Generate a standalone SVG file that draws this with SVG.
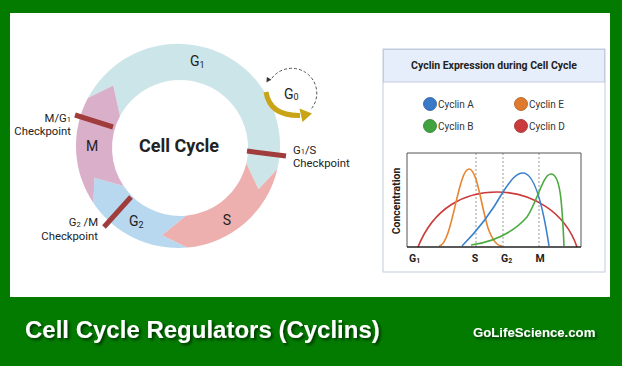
<svg xmlns="http://www.w3.org/2000/svg" width="622" height="366" viewBox="0 0 622 366">
<defs>
<filter id="sh" x="-10%" y="-30%" width="120%" height="160%">
<feDropShadow dx="2" dy="2" stdDeviation="1.5" flood-color="#000" flood-opacity="0.6"/>
</filter>
</defs>
<style>
.lbl{font-family:Roboto,"Liberation Sans",sans-serif;fill:#222}
.ph{font-size:14px}
.ck{font-size:11.3px}
.bar{stroke:#a03c3c;stroke-width:5}
.ax{font-family:Roboto,"Liberation Sans",sans-serif;font-weight:bold;font-size:10.5px;fill:#222}
.lg{font-family:Roboto,"Liberation Sans",sans-serif;font-size:10px;fill:#333}
.dash{stroke:#999;stroke-width:1;stroke-dasharray:2,2}
.cv{fill:none;stroke-width:1.6}
.ft{font-family:"Liberation Sans",Arial,sans-serif;font-weight:bold;fill:#fff}
</style>
<rect x="0" y="0" width="622" height="366" fill="#037b01"/>
<rect x="10" y="13" width="600" height="284" fill="#fff"/>

<g id="cycle">
<path id="seg-g1" d="M87.9,98.1 A102,102 0 0 1 277.4,168.9 L258.5,189.3 L246.3,163.3 A68,68 0 0 0 120,116.1 L113.2,85.6 Z" fill="#cce5e8"/>
<path id="seg-s" d="M277.4,168.9 A102,102 0 0 1 186.9,247.6 L161.8,235.3 L185.9,215.7 A68,68 0 0 0 246.3,163.3 L258.5,189.3 Z" fill="#eeb0ae"/>
<path id="seg-g2" d="M186.9,247.6 A102,102 0 0 1 93.4,203.0 L94.4,177.8 L123.6,186.0 A68,68 0 0 0 185.9,215.7 L161.8,235.3 Z" fill="#b7d8ef"/>
<path id="seg-m" d="M93.4,203.0 A102,102 0 0 1 87.9,98.1 L113.2,85.6 L120.0,116.1 A68,68 0 0 0 123.6,186.0 L94.4,177.8 Z" fill="#d9afc9"/>
<text class="lbl" x="179" y="152" text-anchor="middle" font-size="18" font-weight="bold">Cell Cycle</text>
<text class="lbl ph" x="190" y="66">G<tspan font-size="9" dy="2">1</tspan></text>
<text class="lbl ph" x="92" y="151" text-anchor="middle">M</text>
<text class="lbl ph" x="129" y="226">G<tspan font-size="9" dy="2">2</tspan></text>
<text class="lbl ph" x="227" y="225" text-anchor="middle">S</text>
</g>

<g id="checkpoints">
<line class="bar" x1="75" y1="115" x2="113" y2="127"/>
<line class="bar" x1="247" y1="151" x2="286" y2="156"/>
<line class="bar" x1="104" y1="227" x2="131" y2="197"/>
<text class="lbl ck" x="71" y="121.5" text-anchor="end">M/G<tspan font-size="7.5" dy="0.5">1</tspan></text>
<text class="lbl ck" x="71" y="134.5" text-anchor="end">Checkpoint</text>
<text class="lbl ck" x="293" y="153.5">G<tspan font-size="7.5" dy="0.5">1</tspan><tspan dy="-0.5">/S</tspan></text>
<text class="lbl ck" x="293" y="166.5">Checkpoint</text>
<text class="lbl ck" x="98" y="226" text-anchor="end">G<tspan font-size="7.5" dy="0.5">2</tspan><tspan dy="-0.5"> /M</tspan></text>
<text class="lbl ck" x="98" y="239.5" text-anchor="end">Checkpoint</text>
</g>

<g id="g0">
<path d="M311.7,108.4 A25,25 0 1 0 270.3,80.5" fill="none" stroke="#555" stroke-width="1" stroke-dasharray="3,2"/>
<polygon points="266.5,82.5 271.2,79.5 266.8,77" fill="#333"/>
<path d="M266,92 Q270,116 300,115.5" fill="none" stroke="#c9a417" stroke-width="5"/>
<polygon points="299.5,108.5 312,113.5 302.5,122" fill="#c9a417"/>
<text class="lbl ph" x="284" y="99">G<tspan font-size="9" dy="1">0</tspan></text>
</g>

<g id="chart">
<rect x="383" y="49" width="222" height="223" fill="#fff" stroke="#c3cbe0" stroke-width="1"/>
<rect x="383.5" y="49.5" width="221" height="32.5" fill="#e6edfb" stroke="#c3cbe0" stroke-width="1"/>
<text x="494" y="69" text-anchor="middle" font-family="Roboto,'Liberation Sans',sans-serif" font-weight="bold" font-size="10.5" fill="#222">Cyclin Expression during Cell Cycle</text>
<circle cx="430" cy="104" r="6.5" fill="#3a78c8" stroke="#2a5a9a" stroke-width="0.8"/>
<text class="lg" x="438" y="107.5">Cyclin A</text>
<circle cx="521" cy="104" r="6.5" fill="#e07a2e" stroke="#a85a20" stroke-width="0.8"/>
<text class="lg" x="529" y="107.5">Cyclin E</text>
<circle cx="430" cy="126" r="6.5" fill="#3fa33f" stroke="#2d7a2d" stroke-width="0.8"/>
<text class="lg" x="438" y="129.5">Cyclin B</text>
<circle cx="521" cy="126" r="6.5" fill="#cc3b3b" stroke="#992a2a" stroke-width="0.8"/>
<text class="lg" x="529" y="129.5">Cyclin D</text>
<line class="dash" x1="476" y1="153" x2="476" y2="247"/>
<line class="dash" x1="503" y1="153" x2="503" y2="247"/>
<line class="dash" x1="539" y1="153" x2="539" y2="247"/>
<path class="cv" stroke="#cc3b3b" d="M418,247 C434,207 465,192 497,192 C532,192 565,212 577,247"/>
<path class="cv" stroke="#e8842e" d="M439,246 C452,246 458,169 469,169 C477,169 481,205 488,228 C493,242 498,246 502,246"/>
<path class="cv" stroke="#3a82d0" d="M462,246 C474,234 490,215 503,192 C511,180 516,173 523,173 C533,173 542,200 549,246"/>
<path class="cv" stroke="#4aaa3e" d="M471,245 C492,242 512,234 527,217 C538,200 543,174 551,174 C560,174 562,200 564,246"/>
<polyline points="407,247 407,153 581,153 581,247" fill="none" stroke="#555" stroke-width="1"/>
<line x1="407" y1="247" x2="581" y2="247" stroke="#222" stroke-width="1.5"/>
<text class="ax" x="409" y="262">G<tspan font-size="7" dy="1">1</tspan></text>
<text class="ax" x="475" y="262" text-anchor="middle">S</text>
<text class="ax" x="501" y="262">G<tspan font-size="7" dy="1">2</tspan></text>
<text class="ax" x="540" y="262" text-anchor="middle">M</text>
<text class="ax" transform="translate(400,201) rotate(-90)" text-anchor="middle">Concentration</text>
</g>

<g id="footer" filter="url(#sh)">
<text class="ft" x="25" y="338" font-size="24">Cell Cycle Regulators (Cyclins)</text>
<text class="ft" x="473" y="337" font-size="13.2">GoLifeScience.com</text>
</g>
</svg>
